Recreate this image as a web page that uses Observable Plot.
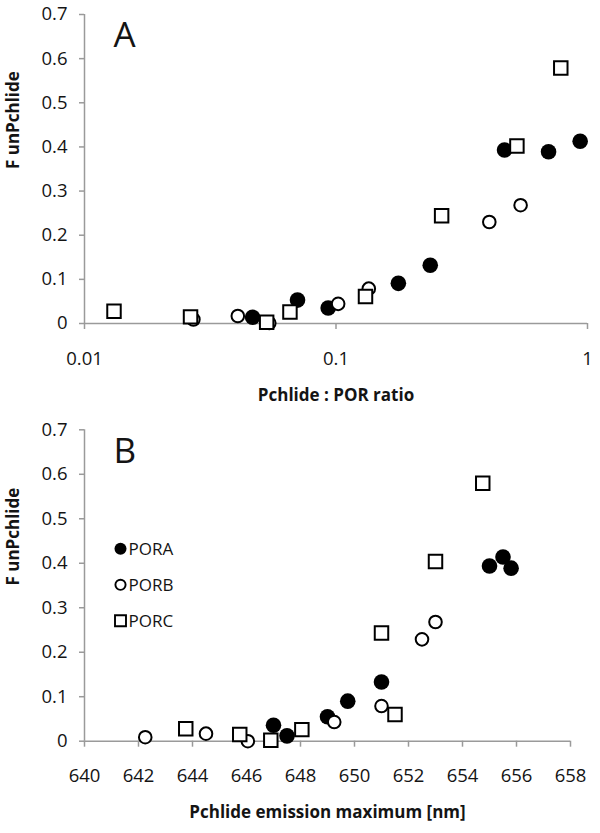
<!DOCTYPE html>
<html>
<head>
<meta charset="utf-8">
<script src="https://cdn.jsdelivr.net/npm/d3@7"></script>
<script src="https://cdn.jsdelivr.net/npm/@observablehq/plot@0.6"></script>
<style>
  html, body { margin: 0; padding: 0; background: #fff; }
  #chart svg { display: block; }
</style>
</head>
<body>
<div id="chart"></div>
<script>
// ---- Data ----
const seriesNames = ["PORA", "PORB", "PORC"];

// Panel A: Pchlide : POR ratio vs F unPchlide
const ratioPORA = [0.0466, 0.0703, 0.0931, 0.177, 0.237, 0.468, 0.700, 0.935];
const fPORA_A   = [0.014, 0.053, 0.035, 0.091, 0.132, 0.393, 0.389, 0.413];
const ratioPORB = [0.0271, 0.0407, 0.0543, 0.102, 0.135, 0.407, 0.542];
const fPORB_A   = [0.009, 0.017, 0.001, 0.0445, 0.079, 0.230, 0.268];
const ratioPORC = [0.0131, 0.0264, 0.053, 0.0656, 0.131, 0.263, 0.524, 0.783];
const fPORC_A   = [0.028, 0.015, 0.003, 0.026, 0.061, 0.244, 0.402, 0.579];

// Panel B: Pchlide emission maximum [nm] vs F unPchlide
const nmPORA  = [647.0, 647.5, 649.0, 649.75, 651.0, 655.0, 655.5, 655.8];
const fPORA_B = [0.036, 0.012, 0.055, 0.090, 0.133, 0.394, 0.414, 0.389];
const nmPORB  = [642.25, 644.5, 646.05, 649.25, 651.0, 652.5, 653.0];
const fPORB_B = [0.009, 0.017, 0.0, 0.043, 0.079, 0.229, 0.268];
const nmPORC  = [643.75, 645.75, 646.9, 648.05, 651.5, 651.0, 653.0, 654.75];
const fPORC_B = [0.028, 0.015, 0.002, 0.026, 0.060, 0.243, 0.404, 0.580];

// Tick labels
const yTicks = [0, 0.1, 0.2, 0.3, 0.4, 0.5, 0.6, 0.7];
const ratioTicks = [0.01, 0.1, 1];
const nmTicks = [640, 642, 644, 646, 648, 650, 652, 654, 656, 658];

// ---- Styling ----
const gray = "#9a9a9a";
const ink = "#141414";
const font = "'Open Sans', sans-serif";
const fmt = d3.format("~g");

const zip = (xs, ys) => xs.map((x, i) => ({x, y: ys[i]}));

const symbolStyles = {
  PORA: {symbol: "circle", r: 7.8, fill: "black", stroke: "none"},
  PORB: {symbol: "circle", r: 6.3, fill: "white", stroke: "black", strokeWidth: 2},
  PORC: {symbol: "square", r: 7.6, fill: "white", stroke: "black", strokeWidth: 2}
};
const legendStyles = {
  PORA: {symbol: "circle", r: 6, fill: "black", stroke: "none"},
  PORB: {symbol: "circle", r: 5.1, fill: "white", stroke: "black", strokeWidth: 1.9},
  PORC: {symbol: "square", r: 6.2, fill: "white", stroke: "black", strokeWidth: 1.9}
};

function dotMarks(sets) {
  return seriesNames.map((name, i) =>
    Plot.dot(sets[i], {x: "x", y: "y", ...symbolStyles[name]}));
}

function axisMarks(xTicks, xMin, xFmt) {
  return [
    Plot.ruleY([0], {stroke: gray, strokeWidth: 1.5}),
    Plot.ruleX([xMin], {stroke: gray, strokeWidth: 1.5}),
    Plot.axisY(yTicks, {tickSize: 5, tickPadding: 12, stroke: gray, strokeWidth: 1.5,
      fill: ink, tickFormat: fmt, label: null, fontSize: 18.5}),
    Plot.axisX(xTicks, {tickSize: 6, tickPadding: 22, stroke: gray, strokeWidth: 1.5,
      fill: ink, tickFormat: xFmt, label: null, fontSize: 18.5})
  ];
}

function labelMarks(xLabel, letter) {
  return [
    Plot.text(["F unPchlide"], {text: d => d, frameAnchor: "left", rotate: -90, dx: -71,
      fontWeight: "bold", fontSize: 17, fill: ink}),
    Plot.text([xLabel], {text: d => d, frameAnchor: "bottom", dy: 77,
      fontWeight: "bold", fontSize: 17, fill: ink}),
    Plot.text([letter], {text: d => d, frameAnchor: "top-left", dx: 29, dy: 8,
      textAnchor: "start", lineAnchor: "top", fontSize: 35, fill: ink})
  ];
}

const panelA = Plot.plot({
  width: 600, height: 415,
  marginTop: 14, marginBottom: 92, marginLeft: 84, marginRight: 13,
  x: {type: "log", domain: [0.01, 1]},
  y: {domain: [0, 0.7]},
  style: {fontFamily: font, fontSize: "18.5px", background: "white", color: ink, overflow: "visible"},
  marks: [
    ...axisMarks(ratioTicks, 0.01, fmt),
    ...dotMarks([zip(ratioPORA, fPORA_A), zip(ratioPORB, fPORB_A), zip(ratioPORC, fPORC_A)]),
    ...labelMarks("Pchlide : POR ratio", "A")
  ]
});

const legendMarks = seriesNames.flatMap((name, i) => [
  Plot.dot([name], {frameAnchor: "top-left", dx: 36, dy: 119 + i * 36, ...legendStyles[name]}),
  Plot.text([name], {text: d => d, frameAnchor: "top-left", dx: 44, dy: 113 + i * 36,
    textAnchor: "start", fontSize: 17, fill: ink})
]);

const panelB = Plot.plot({
  width: 600, height: 418,
  marginTop: 14.3, marginBottom: 92.3, marginLeft: 84, marginRight: 30,
  x: {domain: [640, 658]},
  y: {domain: [0, 0.7]},
  style: {fontFamily: font, fontSize: "18.5px", background: "white", color: ink, overflow: "visible"},
  marks: [
    ...axisMarks(nmTicks, 640, d => String(d)),
    ...dotMarks([zip(nmPORA, fPORA_B), zip(nmPORB, fPORB_B), zip(nmPORC, fPORC_B)]),
    ...legendMarks,
    ...labelMarks("Pchlide emission maximum [nm]", "B")
  ]
});

document.getElementById("chart").append(panelA, panelB);
</script>
</body>
</html>
